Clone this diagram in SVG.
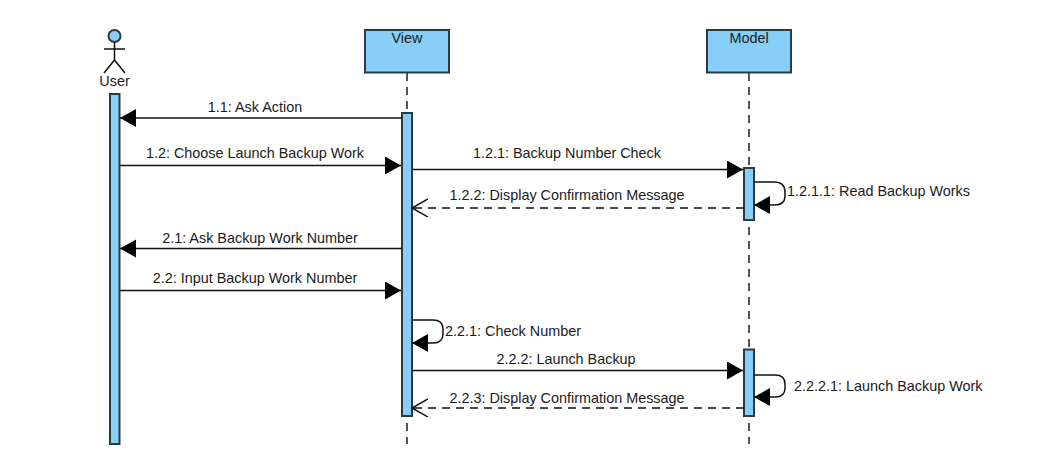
<svg xmlns="http://www.w3.org/2000/svg" width="1049" height="468" viewBox="0 0 1049 468">
<style>
text{font-family:"Liberation Sans",Arial,sans-serif;font-size:14.4px;fill:#1a1a1a}
.m{text-anchor:middle}
.box{fill:#87cef8;stroke:#2c3a42;stroke-width:2}
.act{fill:#87cef8;stroke:#2c3a42;stroke-width:2}
.life{stroke:#555;stroke-width:2;stroke-dasharray:8 6;fill:none}
.s{stroke:#111;stroke-width:1.5;fill:none}
.sm{stroke:#111;stroke-width:1.5;fill:none;marker-end:url(#f)}
.d{stroke:#111;stroke-width:1.5;fill:none;stroke-dasharray:8 6;marker-end:url(#o)}
</style>
<defs>
<marker id="f" markerUnits="userSpaceOnUse" markerWidth="18" markerHeight="20" refX="16" refY="9" orient="auto"><path d="M0 0L16 9L0 18Z" fill="#000"/></marker>
<marker id="o" markerUnits="userSpaceOnUse" markerWidth="18" markerHeight="20" refX="16" refY="9" orient="auto"><path d="M0 0L16 9L0 18" fill="none" stroke="#111" stroke-width="1.5"/></marker>
</defs>
<g id="lifelines">
<path class="life" d="M407 73V444"/>
<path class="life" d="M749 73V444"/>
</g>
<g id="user">
<circle class="box" cx="114.500" cy="36" r="6"/>
<path class="s" d="M114.500 42V60M104 49H125M104 73L114.500 60L125 73"/>
<text class="m" x="114.500" y="86">User</text>
<rect class="act" x="110" y="94" width="9.500" height="350"/>
</g>
<g id="view">
<rect class="box" x="365" y="30" width="84" height="42.500"/>
<text class="m" x="407" y="43">View</text>
<rect class="act" x="402" y="113" width="10" height="303"/>
</g>
<g id="model">
<rect class="box" x="707" y="30" width="84" height="42.500"/>
<text class="m" x="749" y="43">Model</text>
<rect class="act" x="744" y="168" width="10" height="52"/>
<rect class="act" x="744" y="349.500" width="10" height="66.500"/>
</g>
<g id="connectors">
<path class="sm" d="M402 118H120"/>
<path class="sm" d="M120 165.500H401"/>
<path class="sm" d="M412 169.500H743"/>
<path class="d" d="M744 208H412"/>
<path class="sm" d="M754 182H774Q785 182 785 192V196Q785 205 774 205H754"/>
<path class="sm" d="M402 248.500H120"/>
<path class="sm" d="M120 290.500H401"/>
<path class="sm" d="M412 320H433Q443 320 443 329V334Q443 343 433 343H412"/>
<path class="sm" d="M412 370.500H743"/>
<path class="d" d="M744 408H412"/>
<path class="sm" d="M754 375H775Q785 375 785 384V388Q785 397 775 397H754"/>
</g>
<g id="labels">
<text class="m" x="255" y="112">1.1: Ask Action</text>
<text class="m" x="255" y="158">1.2: Choose Launch Backup Work</text>
<text class="m" x="567" y="158">1.2.1: Backup Number Check</text>
<text class="m" x="567" y="200">1.2.2: Display Confirmation Message</text>
<text x="787" y="196">1.2.1.1: Read Backup Works</text>
<text class="m" x="260" y="243">2.1: Ask Backup Work Number</text>
<text class="m" x="255" y="283">2.2: Input Backup Work Number</text>
<text x="445" y="336">2.2.1: Check Number</text>
<text class="m" x="566" y="364">2.2.2: Launch Backup</text>
<text class="m" x="567" y="403">2.2.3: Display Confirmation Message</text>
<text x="794" y="391">2.2.2.1: Launch Backup Work</text>
</g>
</svg>
